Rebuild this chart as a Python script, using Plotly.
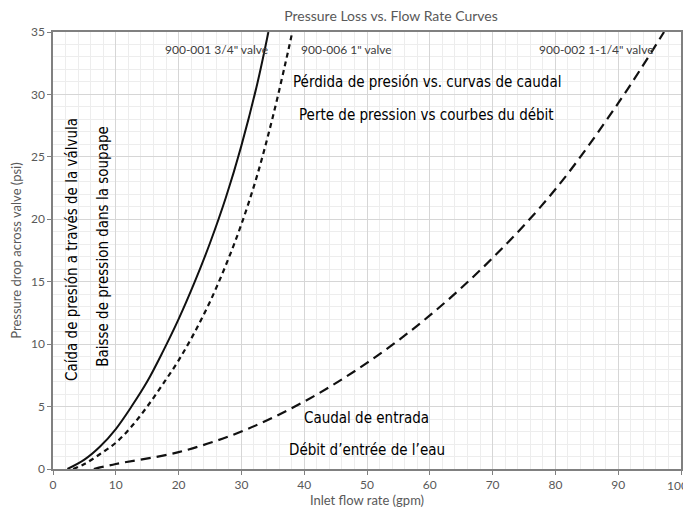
import plotly.graph_objects as go

# Data
flow_34 = [2.3, 5, 7.5, 10, 12.5, 15, 17.5, 20, 22.5, 25, 27.5, 30, 32.5, 34.3]
drop_34 = [0, 0.75, 1.8, 3.2, 5.0, 7.0, 9.4, 12.0, 14.9, 18.1, 21.7, 25.9, 30.8, 35]

flow_1 = [3.2, 5, 7.5, 10, 12.5, 15, 17.5, 20, 22.5, 25, 27.5, 30, 32.5, 35, 37.5, 38.1]
drop_1 = [0, 0.4, 1.2, 2.1, 3.4, 5.0, 6.8, 8.7, 10.9, 13.4, 16.3, 19.6, 23.5, 28.2, 33.6, 35]

flow_114 = [6.5, 10, 20, 30, 40, 50, 60, 70, 80, 90, 97.3]
drop_114 = [0, 0.4, 1.35, 3.0, 5.4, 8.5, 12.3, 16.9, 22.4, 29.3, 35]

x_tick_vals = [0, 10, 20, 30, 40, 50, 60, 70, 80, 90, 100]
x_tick_text = ["0", "10", "20", "30", "40", "50", "60", "70", "80", "90", "100"]
y_major_step = 5

title_text = "Pressure Loss vs. Flow Rate Curves"
x_title = "Inlet flow rate (gpm)"
y_title = "Pressure drop across valve (psi)"
label_34 = "900-001 3/4\" valve"
label_1 = "900-006 1\" valve"
label_114 = "900-002 1-1/4\" valve"

overlay_es_title = "Pérdida de presión vs. curvas de caudal"
overlay_fr_title = "Perte de pression vs courbes du débit"
overlay_es_x = "Caudal de entrada"
overlay_fr_x = "Débit d’entrée de l’eau"
overlay_es_y = "Caída de presión a través de la válvula"
overlay_fr_y = "Baisse de pression dans la soupape"

GRAY = "#595959"
NARROW = "DejaVu Sans Condensed, Liberation Sans Narrow, Arial Narrow, sans-serif"
BODY = "Lato, Open Sans, sans-serif"

# page offset (browser body margin) and plot area in page pixels
OFF = 8
W, H = 683, 504
ml, mr, mt, mb = 45, 8, 24, 41
PL, PT = OFF + ml, OFF + mt
pw, ph = W - ml - mr, H - mt - mb

fig = go.Figure()
fig.add_trace(go.Scatter(x=flow_34, y=drop_34, mode="lines",
                         line=dict(color="#111111", width=2, shape="spline"),
                         showlegend=False, hoverinfo="skip"))
fig.add_trace(go.Scatter(x=flow_1, y=drop_1, mode="lines",
                         line=dict(color="#111111", width=2.2, shape="spline", dash="5px,4px"),
                         showlegend=False, hoverinfo="skip"))
fig.add_trace(go.Scatter(x=flow_114, y=drop_114, mode="lines",
                         line=dict(color="#111111", width=2.2, shape="spline", dash="10px,6px"),
                         showlegend=False, hoverinfo="skip"))

annotations = [
    dict(text=label_34, x=271, y=50, xanchor="right",
         font=dict(size=12, color="#404040", family=BODY)),
    dict(text=label_1, x=300, y=50, xanchor="left",
         font=dict(size=12, color="#404040", family=BODY)),
    dict(text=label_114, x=658, y=50, xanchor="right",
         font=dict(size=12, color="#404040", family=BODY)),
    dict(text=overlay_es_title, x=428, y=82, xanchor="center",
         font=dict(size=15, color="#000000", family=NARROW)),
    dict(text=overlay_fr_title, x=428, y=115, xanchor="center",
         font=dict(size=15, color="#000000", family=NARROW)),
    dict(text=overlay_es_x, x=367, y=420, xanchor="center",
         font=dict(size=15, color="#000000", family=NARROW)),
    dict(text=overlay_fr_x, x=368, y=452, xanchor="center",
         font=dict(size=15, color="#000000", family=NARROW)),
    dict(text=overlay_es_y, x=72, y=250, xanchor="center", textangle=-90,
         font=dict(size=15, color="#000000", family=NARROW)),
    dict(text=overlay_fr_y, x=103, y=247, xanchor="center", textangle=-90,
         font=dict(size=15, color="#000000", family=NARROW)),
]
for a in annotations:
    a["x"] = (a["x"] - PL) / pw
    a["y"] = 1 - (a["y"] - PT) / ph
    a["yanchor"] = "middle"
    a["xref"] = "paper"
    a["yref"] = "paper"
    a["showarrow"] = False

# the last x tick label sits at the right edge of the page; plotly hides tick labels that
# overflow the figure, so it is drawn as an annotation just inside the edge
annotations.append(dict(text=x_tick_text[-1], x=x_tick_vals[-1] - 0.6, xref="x",
                        y=0, yref="y", xanchor="center", yanchor="top", yshift=-7,
                        showarrow=False, font=dict(size=12, color=GRAY, family=BODY)))
shown_tick_text = x_tick_text[:-1] + [""]

fig.update_layout(
    width=W, height=H,
    margin=dict(l=ml, r=mr, t=mt, b=mb),
    paper_bgcolor="white", plot_bgcolor="white",
    title=dict(text=title_text, x=(391 - OFF) / W, xanchor="center",
               y=1, yanchor="top", pad=dict(t=3),
               font=dict(size=14, color=GRAY, family=BODY)),
    annotations=annotations,
    xaxis=dict(range=[0, 100], tickmode="array", tickvals=x_tick_vals, ticktext=shown_tick_text,
               ticks="outside", ticklen=4, tickcolor="#808080",
               showline=True, linecolor="#808080", linewidth=1.5, mirror=True,
               showgrid=True, gridcolor="#d6d6d6", gridwidth=1,
               minor=dict(tickmode="linear", tick0=0, dtick=2, showgrid=True,
                          gridcolor="#ededed", gridwidth=1),
               zeroline=False,
               tickfont=dict(size=12, color=GRAY, family=BODY),
               title=dict(text=x_title, font=dict(size=13, color=GRAY, family=BODY), standoff=3)),
    yaxis=dict(range=[0, 35], tick0=0, dtick=y_major_step, ticks="outside", ticklen=4,
               tickcolor="#808080",
               showline=True, linecolor="#808080", linewidth=1.5, mirror=True,
               showgrid=True, gridcolor="#d6d6d6", gridwidth=1,
               minor=dict(dtick=1, showgrid=True, gridcolor="#ededed", gridwidth=1),
               zeroline=False,
               tickfont=dict(size=12, color=GRAY, family=BODY),
               title=dict(text=y_title, font=dict(size=13, color=GRAY, family=BODY), standoff=6)),
)

fig.write_html("out.html")
